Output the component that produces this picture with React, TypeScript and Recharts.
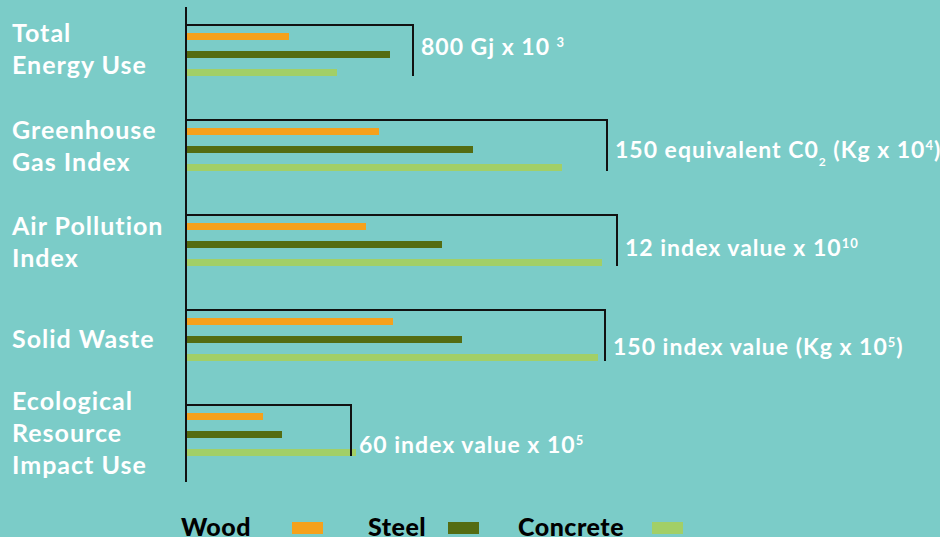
import React from 'react';
import { BarChart, Bar, XAxis, YAxis, ReferenceLine, Legend } from 'recharts';

// ---- data (relative bar lengths; each group's bracket marks its full-scale value) ----
const CATEGORIES = [
  'Total Energy Use',
  'Greenhouse Gas Index',
  'Air Pollution Index',
  'Solid Waste',
  'Ecological Resource Impact Use',
];
const CATEGORY_LINES = [
  ['Total', 'Energy Use'],
  ['Greenhouse', 'Gas Index'],
  ['Air Pollution', 'Index'],
  ['Solid Waste'],
  ['Ecological', 'Resource', 'Impact Use'],
];
const WOOD = [103, 193, 180, 207, 77];
const STEEL = [204, 287, 256, 276, 96];
const CONCRETE = [151, 376, 416, 412, 170];
const SCALE_EXTENT = [227, 421, 431, 419, 165];
const SCALE_LABELS = [
  '800 Gj x 10 ^{3}',
  '150 equivalent C0_{2} (Kg x 10^{4})',
  '12 index value x 10^{10}',
  '150 index value (Kg x 10^{5})',
  '60 index value x 10^{5}',
];
const SERIES_NAMES = ['Wood', 'Steel', 'Concrete'];

// ---- styles ----
const BG = '#7BCCC8';
const COLORS = ['#F5A11C', '#546C12', '#A2CF67'];
const FONT = 'Lato, "Open Sans", sans-serif';
const CAT_SHIFT = [-6, -4, -3, -1, -2];
const LABEL_SHIFT = [-8, 0, 3, 7, 10];
const LEGEND_TEXT_X = [181, 368, 518];
const LEGEND_SWATCH_X = [292, 448, 652];

const data = CATEGORIES.map((c, i) => ({
  category: c,
  wood: WOOD[i],
  steel: STEEL[i],
  concrete: CONCRETE[i],
}));

function renderRich(text: string) {
  const parts = text.split(/(\^\{[^}]*\}|_\{[^}]*\})/).filter((p) => p.length > 0);
  const out: React.ReactNode[] = [];
  let offset = 0;
  parts.forEach((p, k) => {
    if (p.startsWith('^{')) {
      const t = p.slice(2, -1);
      const target = -8;
      out.push(
        <tspan key={k} dy={target - offset} fontSize={13}>
          {t}
        </tspan>
      );
      offset = target;
    } else if (p.startsWith('_{')) {
      const t = p.slice(2, -1);
      const target = 8;
      out.push(
        <tspan key={k} dy={target - offset} fontSize={12}>
          {t}
        </tspan>
      );
      offset = target;
    } else {
      out.push(
        <tspan key={k} dy={0 - offset}>
          {p}
        </tspan>
      );
      offset = 0;
    }
  });
  return out;
}

const CategoryTick = (props: any) => {
  const { y, index } = props;
  const lines = CATEGORY_LINES[index] || [];
  const lh = 32;
  const cap = 18;
  const c = y + (CAT_SHIFT[index] || 0);
  const first = c + cap / 2 - ((lines.length - 1) * lh) / 2;
  return (
    <text
      x={12}
      y={first}
      fill="#FFFFFF"
      fontFamily={FONT}
      fontWeight={700}
      fontSize={25}
      letterSpacing={1}
      textAnchor="start"
    >
      {lines.map((l, k) => (
        <tspan key={k} x={12} y={first + k * lh}>
          {l}
        </tspan>
      ))}
    </text>
  );
};

const makeBracket = (i: number) => (props: any) => {
  const { x1, y1, x2 } = props;
  const top = y1 - 29.5;
  const bottom = y1 + 21.5;
  const labelY = y1 + (LABEL_SHIFT[i] || 0) + 8;
  return (
    <g>
      <path
        d={`M${x1},${top} L${x2},${top} L${x2},${bottom}`}
        stroke="#111"
        strokeWidth={2}
        fill="none"
      />
      <text
        x={x2 + 8}
        y={labelY}
        fill="#FFFFFF"
        fontFamily={FONT}
        fontWeight={700}
        fontSize={23}
        letterSpacing={1}
      >
        {renderRich(SCALE_LABELS[i])}
      </text>
    </g>
  );
};

const LegendContent = (props: any) => {
  const payload = [...(props.payload || [])].sort(
    (a: any, b: any) => SERIES_NAMES.indexOf(a.value) - SERIES_NAMES.indexOf(b.value)
  );
  return (
    <svg width={940} height={40} style={{ overflow: 'visible', display: 'block' }}>
      {payload.map((p: any, k: number) => (
        <g key={p.value}>
          <text
            x={LEGEND_TEXT_X[k]}
            y={30.5}
            fill="#000"
            fontFamily={FONT}
            fontWeight={900}
            fontSize={25}
            letterSpacing={0.5}
          >
            {p.value}
          </text>
          <rect x={LEGEND_SWATCH_X[k]} y={17} width={31} height={12} fill={p.color} />
        </g>
      ))}
    </svg>
  );
};

export default function App() {
  return (
    <div
      style={{
        position: 'absolute',
        left: 0,
        top: 0,
        width: 940,
        height: 537,
        background: BG,
        overflow: 'hidden',
      }}
    >
      <BarChart
        width={940}
        height={537}
        data={data}
        layout="vertical"
        margin={{ top: 7, right: 54, bottom: 55, left: 0 }}
        barSize={7}
        barGap={11}
      >
        <XAxis type="number" domain={[0, 700]} hide />
        <YAxis
          type="category"
          dataKey="category"
          width={186}
          axisLine={{ stroke: '#111', strokeWidth: 2 }}
          tickLine={false}
          tick={<CategoryTick />}
          interval={0}
        />
        <Bar dataKey="wood" name={SERIES_NAMES[0]} fill={COLORS[0]} isAnimationActive={false} />
        <Bar dataKey="steel" name={SERIES_NAMES[1]} fill={COLORS[1]} isAnimationActive={false} />
        <Bar dataKey="concrete" name={SERIES_NAMES[2]} fill={COLORS[2]} isAnimationActive={false} />
        {CATEGORIES.map((c, i) => (
          <ReferenceLine
            key={c}
            segment={[
              { x: 0, y: c },
              { x: SCALE_EXTENT[i], y: c },
            ]}
            ifOverflow="visible"
            shape={makeBracket(i)}
          />
        ))}
        <Legend
          layout="horizontal"
          verticalAlign="middle"
          align="center"
          content={<LegendContent />}
          wrapperStyle={{ left: 0, top: 505, bottom: 'auto', width: 940, height: 32 }}
        />
      </BarChart>
    </div>
  );
}
